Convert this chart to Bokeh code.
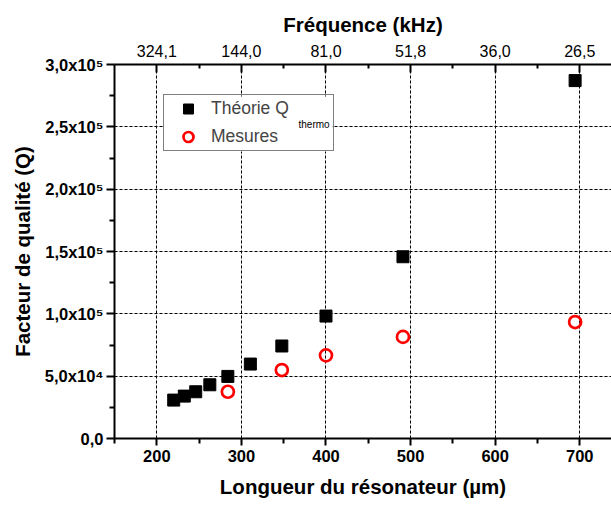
from bokeh.plotting import figure
from bokeh.models import (Range1d, LinearAxis, FixedTicker, Legend, LegendItem, Label, Grid,
                          BoxAnnotation)
from bokeh.embed import file_html
from bokeh.resources import INLINE

# ---- data ----
theory_length = [220, 232.5, 246, 262.7, 284, 310.6, 347.8, 400, 491, 694.5]
theory_q = [30800, 34000, 37500, 43100, 49800, 59700, 74200, 98200, 145800, 287100]
meas_length = [284, 347.8, 400, 491, 694.5]
meas_q = [37500, 54900, 66700, 81500, 93400]

x_ticks = [200, 300, 400, 500, 600, 700]
x_minor = [150, 250, 350, 450, 550, 650]
freq_labels = ["324,1", "144,0", "81,0", "51,8", "36,0", "26,5"]
y_ticks = [0, 50000, 100000, 150000, 200000, 250000, 300000]
y_minor = [25000, 75000, 125000, 175000, 225000, 275000]
y_labels = ["0,0", "5,0x10\u2074", "1,0x10\u2075", "1,5x10\u2075",
            "2,0x10\u2075", "2,5x10\u2075", "3,0x10\u2075"]

FONT = "Liberation Sans"

p = figure(width=611, height=507, x_range=Range1d(150, 737.5), y_range=Range1d(0, 300000),
           output_backend="svg", toolbar_location=None,
           min_border_left=114, min_border_right=0, min_border_top=64, min_border_bottom=69,
           x_axis_location=None, y_axis_location=None)
p.outline_line_color = None
p.background_fill_color = "white"
p.border_fill_color = "white"

# grids
xg = Grid(dimension=0, ticker=FixedTicker(ticks=x_ticks), grid_line_color="black",
          grid_line_width=1, grid_line_dash="3 2")
yg = Grid(dimension=1, ticker=FixedTicker(ticks=y_ticks[1:-1]), grid_line_color="black",
          grid_line_width=1, grid_line_dash="3 2")
p.add_layout(xg)
p.add_layout(yg)

def style_axis(ax):
    ax.axis_line_width = 2
    ax.axis_line_color = "black"
    ax.major_tick_line_width = 2
    ax.minor_tick_line_width = 2
    ax.major_tick_line_color = "black"
    ax.minor_tick_line_color = "black"
    ax.major_label_text_color = "black"
    ax.axis_label_text_color = "black"
    ax.major_label_text_font = FONT
    ax.axis_label_text_font = FONT
    ax.axis_label_text_font_style = "bold"

# bottom axis
xb = LinearAxis(ticker=FixedTicker(ticks=x_ticks, minor_ticks=x_minor),
                axis_label="Longueur du résonateur (µm)")
style_axis(xb)
xb.major_tick_out = 7
xb.major_tick_in = 0
xb.minor_tick_out = 5
xb.minor_tick_in = 0
xb.major_label_standoff = 4
xb.major_label_text_font_size = "16.5px"
xb.major_label_text_font_style = "bold"
xb.axis_label_text_font_size = "20.5px"
xb.axis_label_standoff = 10
p.add_layout(xb, "below")

# left axis
yl = LinearAxis(ticker=FixedTicker(ticks=y_ticks, minor_ticks=y_minor),
                axis_label="Facteur de qualité (Q)")
style_axis(yl)
yl.major_tick_out = 8
yl.major_tick_in = 0
yl.minor_tick_out = 5
yl.minor_tick_in = 0
yl.major_label_standoff = 3
yl.major_label_text_font_size = "16.5px"
yl.major_label_text_font_style = "bold"
yl.major_label_overrides = {t: lab for t, lab in zip(y_ticks, y_labels)}
yl.axis_label_text_font_size = "20.5px"
yl.axis_label_standoff = 8
p.add_layout(yl, "left")

# top axis (frequency)
xt = LinearAxis(ticker=FixedTicker(ticks=x_ticks, minor_ticks=x_minor[1:]),
                axis_label="Fréquence (kHz)")
style_axis(xt)
xt.major_tick_out = 0
xt.major_tick_in = 8
xt.minor_tick_out = 0
xt.minor_tick_in = 4
xt.major_label_standoff = 8
xt.major_label_text_font_size = "16px"
xt.major_label_overrides = {t: lab for t, lab in zip(x_ticks, freq_labels)}
xt.axis_label_text_font_size = "20.5px"
xt.axis_label_standoff = 6
p.add_layout(xt, "above")

# data
r1 = p.scatter(theory_length, theory_q, marker="square", size=12,
               fill_color="black", line_color="black")
r2 = p.scatter(meas_length, meas_q, marker="circle", size=12,
               fill_color=None, line_color="red", line_width=2.7)

# legend: white backing box first, then transparent legend, then subscript text
LEG_X, LEG_Y, LEG_W, LEG_H = 49, 287, 169, 55
backing = BoxAnnotation(left=LEG_X, right=LEG_X + LEG_W, bottom=LEG_Y, top=LEG_Y + LEG_H,
                        left_units="screen", right_units="screen",
                        bottom_units="screen", top_units="screen",
                        fill_color="white", fill_alpha=1.0, line_color=None,
                        level="annotation")
p.add_layout(backing)

legend = Legend(items=[LegendItem(label="Théorie Q", renderers=[r1]),
                       LegendItem(label="Mesures", renderers=[r2])],
                location=(LEG_X, LEG_Y), orientation="vertical", padding=1, margin=0, spacing=3,
                glyph_width=46, glyph_height=25, label_height=25, label_width=121,
                label_standoff=0, label_text_font=FONT, label_text_font_size="17.5px",
                border_line_color="black", border_line_width=1,
                background_fill_alpha=0.0)
p.add_layout(legend)

sub = Label(x=184, y=314, x_units="screen", y_units="screen", text="thermo",
            text_font=FONT, text_font_size="10px", text_baseline="alphabetic",
            text_color="black", level="overlay")
p.add_layout(sub)

open("out.html", "w").write(file_html(p, INLINE))
